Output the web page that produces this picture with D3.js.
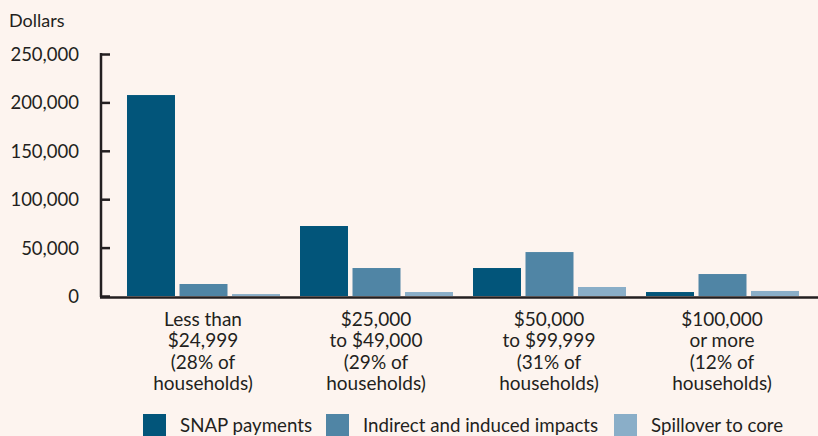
<!DOCTYPE html>
<html><head><meta charset="utf-8">
<script src="https://cdn.jsdelivr.net/npm/d3@7"></script>
<style>html,body{margin:0;padding:0;background:#fdf4ef;}svg{display:block;}</style>
</head><body>
<script>
const categories = [
  ["Less than","$24,999","(28% of","households)"],
  ["$25,000","to $49,000","(29% of","households)"],
  ["$50,000","to $99,999","(31% of","households)"],
  ["$100,000","or more","(12% of","households)"]
];
const seriesNames = ["SNAP payments","Indirect and induced impacts","Spillover to core"];
const snap = [207600, 72300, 28900, 4100];
const indirect = [12400, 28900, 45400, 22700];
const spillover = [2000, 4100, 9300, 5200];
const yTicks = [0, 50000, 100000, 150000, 200000, 250000];
const colors = ["#02557a","#5085a5","#8aaec8"];

const W = 818, H = 436;
const font = "Lato, 'Open Sans', sans-serif";
const ink = "#231f20";
const svg = d3.select("body").append("svg").attr("width", W).attr("height", H);
svg.append("rect").attr("width", W).attr("height", H).attr("fill", "#fdf4ef");

const y = d3.scaleLinear().domain([0, 250000]).range([296, 54]);
const x0 = d3.scaleBand().domain(d3.range(categories.length)).range([117, 809]).padding(0);
const x1 = d3.scaleBand().domain(d3.range(3)).range([10, 163]).paddingInner(0.086);
const series = [snap, indirect, spillover];

// bars
categories.forEach((c, i) => {
  const g = svg.append("g").attr("transform", `translate(${x0(i)},0)`);
  series.forEach((s, k) => {
    g.append("rect")
      .attr("x", x1(k)).attr("width", x1.bandwidth())
      .attr("y", y(s[i])).attr("height", y(0) - y(s[i]))
      .attr("fill", colors[k]);
  });
});

// y axis
const yAxis = d3.axisRight(y).tickValues(yTicks).tickSize(9).tickFormat("");
const ya = svg.append("g").attr("transform", "translate(101,0)").call(yAxis);
ya.select(".domain").remove();
ya.selectAll(".tick line").attr("stroke", ink).attr("stroke-width", 2.5);
svg.append("line").attr("x1", 101).attr("x2", 101).attr("y1", 53).attr("y2", 297)
  .attr("stroke", ink).attr("stroke-width", 2.5);
svg.selectAll(".ylab").data(yTicks).enter().append("text")
  .attr("x", 79).attr("y", d => y(d) + 7).attr("text-anchor", "end")
  .attr("font-family", font).attr("font-size", 18.5).attr("fill", ink)
  .text(d => d3.format(",")(d));
svg.append("text").attr("x", 9).attr("y", 27).attr("font-family", font)
  .attr("font-size", 18).attr("fill", ink).text("Dollars");

// x axis line
svg.append("line").attr("x1", 100).attr("x2", 818).attr("y1", 297.5).attr("y2", 297.5)
  .attr("stroke", ink).attr("stroke-width", 2.5);

// x labels
categories.forEach((c, i) => {
  const t = svg.append("text").attr("text-anchor", "middle")
    .attr("font-family", font).attr("font-size", 19).attr("fill", ink);
  c.forEach((line, j) => {
    t.append("tspan").attr("x", x0(i) + x0.bandwidth() / 2 - 0.5).attr("y", 326 + j * 21.3).text(line);
  });
});

// legend
const legX = [143, 326, 614];
seriesNames.forEach((n, k) => {
  svg.append("rect").attr("x", legX[k]).attr("y", 414).attr("width", 23).attr("height", 22).attr("fill", colors[k]);
  svg.append("text").attr("x", legX[k] + 37).attr("y", 432).attr("font-family", font)
    .attr("font-size", 18.7).attr("fill", ink).text(n);
});
</script>
</body></html>
